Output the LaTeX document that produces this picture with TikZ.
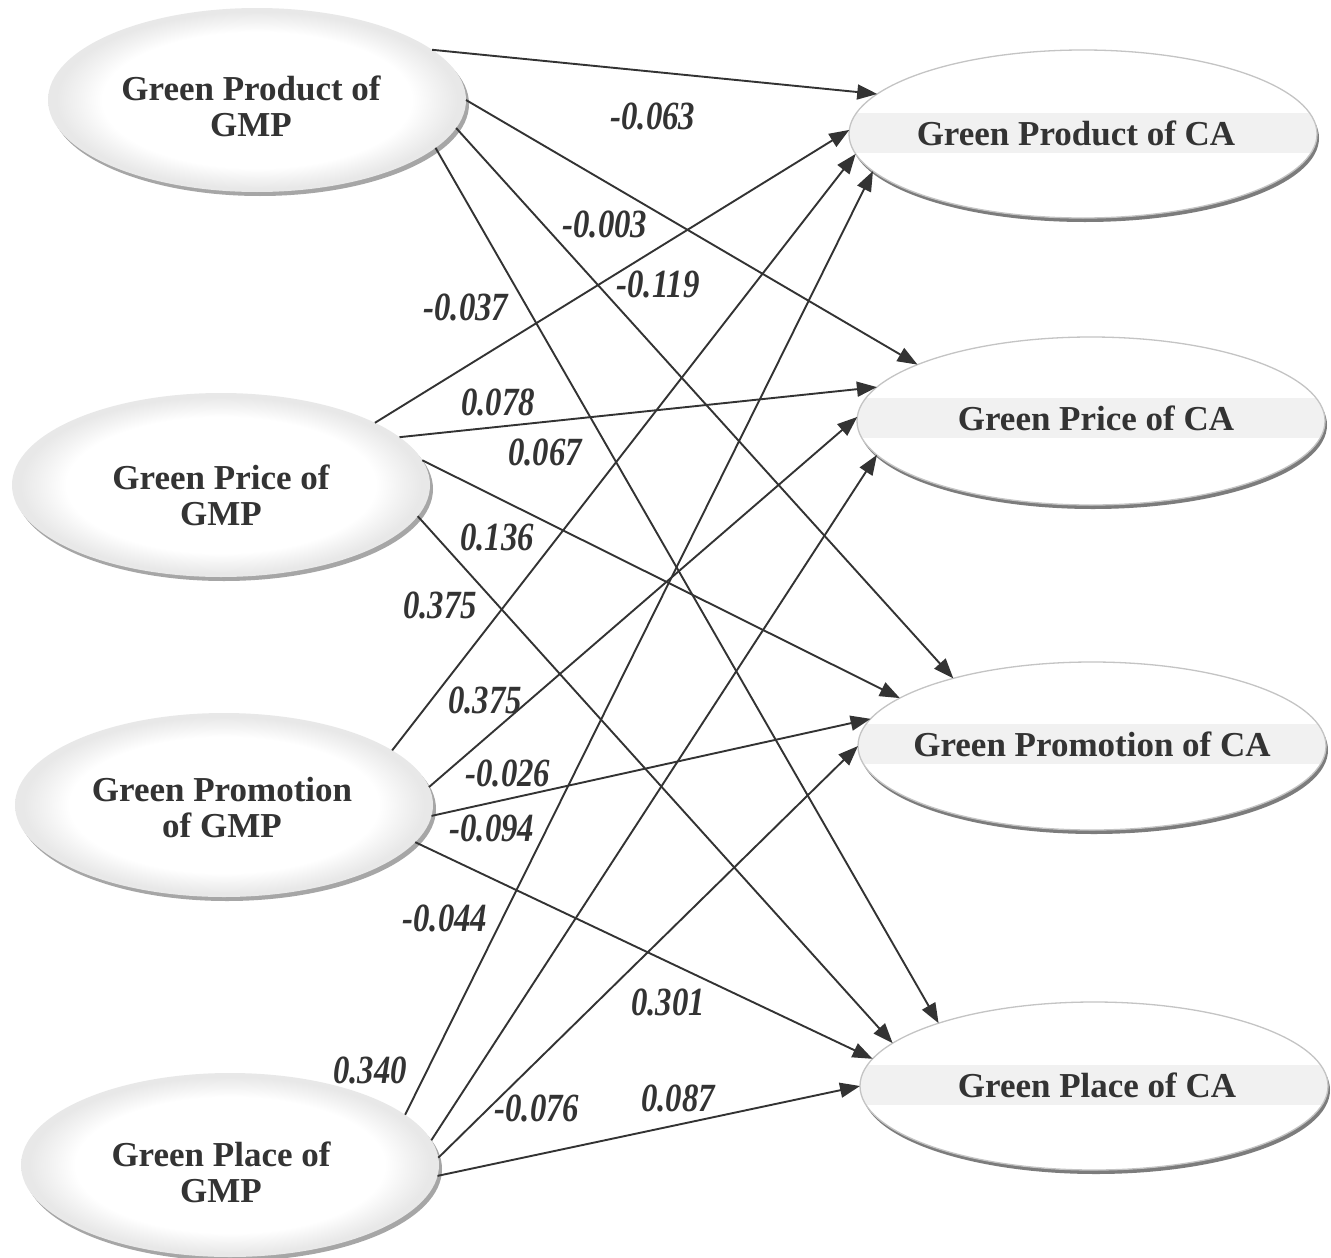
\documentclass[tikz,border=0pt]{standalone}
\usepackage{fontspec}
\usepackage{graphicx}
\setmainfont{Liberation Serif}
\usetikzlibrary{shapes.geometric,arrows.meta}
\definecolor{ink}{HTML}{333333}
\definecolor{lring}{HTML}{E8E8E8}
\definecolor{lmid}{HTML}{F2F2F2}
\definecolor{lshadow}{HTML}{A6A6A6}
\definecolor{rshadow}{HTML}{7C7C7C}
\definecolor{rrim}{HTML}{C4C4C4}
\definecolor{rband}{HTML}{F1F1F1}
\pgfdeclareradialshading{ringshade}{\pgfpoint{0bp}{0bp}}{%
  color(0bp)=(white); color(18.5bp)=(white); color(21.5bp)=(lmid);
  color(24bp)=(lring); color(25bp)=(lring); color(50bp)=(lring)}
\newcommand{\LeftEll}[6]{%
  \fill[lshadow] (#2+3,#3+4) ellipse [x radius=209pt, y radius=92pt];
  \node[lnode, shading=ringshade] (#1) at (#2,#3) {};
  \node[ltext] (#1t) at (#5,#6) {#4};
}
\newcommand{\RightEll}[6]{%
  \fill[rshadow] (#2+2,#3+4) ellipse [x radius=234pt, y radius=84pt];
  \node[rnode, fill=white] (#1) at (#2,#3) {};
  \begin{scope}
    \clip (#2,#3) ellipse [x radius=234pt, y radius=84pt];
    \fill[rband] (#2-240,#6-20) rectangle (#2+240,#6+20);
  \end{scope}
  \draw[rrim, line width=1.3pt] (#2,#3) ellipse [x radius=234pt, y radius=84pt];
  \node[rtext] (#1t) at (#5,#6) {#4};
}
\newcommand{\Coef}[4]{\node[coef] (#1) at (#2,#3) {\scalebox{0.82}[1]{#4}};}
\begin{document}
\begin{tikzpicture}[x=1pt,y=-1pt,
  lnode/.style={ellipse, minimum width=418pt, minimum height=184pt, inner sep=0pt, outer sep=0pt},
  rnode/.style={ellipse, minimum width=468pt, minimum height=168pt, inner sep=0pt, outer sep=0pt},
  ltext/.style={font=\fontsize{35}{36}\selectfont\bfseries, text=ink, align=center, inner sep=0pt},
  rtext/.style={font=\fontsize{35}{36}\selectfont\bfseries, text=ink, inner sep=0pt},
  coef/.style={font=\fontsize{40}{40}\selectfont\bfseries\itshape, text=ink, inner sep=0pt},
  conn/.style={draw=ink, line width=1.9pt, -{Triangle[length=20pt,width=15pt]}}
]
\useasboundingbox (0,0) rectangle (1331,1258);
\fill[white] (0,0) rectangle (1331,1258);

\LeftEll{A1}{257}{100}{Green Product of\\GMP}{251}{106}
\LeftEll{A2}{221}{485}{Green Price of\\GMP}{221}{495}
\LeftEll{A3}{224}{805}{Green Promotion\\of GMP}{222}{808}
\LeftEll{A4}{230}{1165}{Green Place of\\GMP}{221}{1172}

\RightEll{B1}{1083}{134}{Green Product of CA}{1076}{133}
\RightEll{B2}{1091}{421}{Green Price of CA}{1096}{418}
\RightEll{B3}{1092}{746}{Green Promotion of CA}{1092}{744}
\RightEll{B4}{1094}{1086}{Green Place of CA}{1097}{1085}

\draw[conn] (A1.16) -- (B1.169);
\draw[conn] (A1.0) -- (B2.162);
\draw[conn] (A1.352) -- (B3.154);
\draw[conn] (A1.345) -- (B4.158);
\draw[conn] (A2.22) -- (B1.179);
\draw[conn] (A2.15) -- (B2.171);
\draw[conn] (A2.7) -- (B3.166);
\draw[conn] (A2.351) -- (B4.168);
\draw[conn] (A3.18) -- (B1.185);
\draw[conn] (A3.5) -- (B2.179);
\draw[conn] (A3.357) -- (B3.173);
\draw[conn] (A3.349) -- (B4.173);
\draw[conn] (A4.16) -- (B1.190);
\draw[conn] (A4.7) -- (B2.189);
\draw[conn] (A4.2) -- (B3.180);
\draw[conn] (A4.357) -- (B4.180);

\Coef{c1}{653}{116}{-0.063}
\Coef{c2}{605}{224}{-0.003}
\Coef{c3}{658}{284}{-0.119}
\Coef{c4}{466}{307}{-0.037}
\Coef{c5}{498}{402}{0.078}
\Coef{c6}{545}{452}{0.067}
\Coef{c7}{497}{537}{0.136}
\Coef{c8}{440}{605}{0.375}
\Coef{c9}{485}{700}{0.375}
\Coef{c10}{508}{773}{-0.026}
\Coef{c11}{492}{828}{-0.094}
\Coef{c12}{445}{918}{-0.044}
\Coef{c13}{668}{1002}{0.301}
\Coef{c14}{370}{1070}{0.340}
\Coef{c15}{537}{1108}{-0.076}
\Coef{c16}{678}{1098}{0.087}
\end{tikzpicture}
\end{document}
